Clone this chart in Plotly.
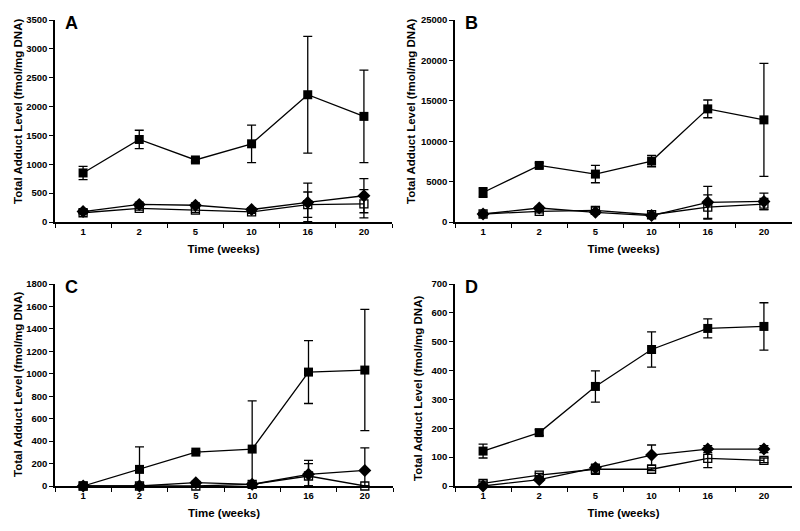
import plotly.graph_objects as go

weeks = ["1", "2", "5", "10", "16", "20"]

# Panel A
A_sq = [850, 1430, 1075, 1355, 2205, 1830]
A_sq_err = [115, 160, 35, 325, 1010, 800]
A_di = [180, 305, 290, 215, 340, 455]
A_di_err = [30, 40, 40, 30, 335, 295]
A_op = [160, 235, 205, 175, 300, 315]
A_op_err = [20, 30, 40, 25, 220, 245]

# Panel B
B_sq = [3650, 7000, 5930, 7540, 14000, 12640]
B_sq_err = [600, 300, 1070, 700, 1100, 7000]
B_di = [990, 1730, 1200, 790, 2430, 2550]
B_di_err = [150, 200, 250, 150, 1970, 1030]
B_op = [990, 1320, 1440, 900, 1850, 2220]
B_op_err = [150, 200, 400, 150, 1500, 700]

# Panel C
C_sq = [0, 148, 302, 329, 1015, 1033]
C_sq_err = [0, 200, 10, 430, 280, 540]
C_di = [0, 0, 30, 15, 104, 139]
C_di_err = [0, 0, 10, 10, 125, 200]
C_op = [0, 0, 0, 15, 89, 0]
C_op_err = [0, 0, 0, 10, 110, 0]

# Panel D
D_sq = [121, 185, 345, 473, 546, 553]
D_sq_err = [24, 10, 54, 61, 33, 82]
D_di = [0, 22, 63, 107, 128, 128]
D_di_err = [3, 5, 10, 35, 12, 12]
D_op = [9, 38, 58, 58, 96, 89]
D_op_err = [8, 6, 18, 5, 32, 8]

panels = [
    ("A", A_sq, A_sq_err, A_di, A_di_err, A_op, A_op_err, 3500, 500),
    ("B", B_sq, B_sq_err, B_di, B_di_err, B_op, B_op_err, 25000, 5000),
    ("C", C_sq, C_sq_err, C_di, C_di_err, C_op, C_op_err, 1800, 200),
    ("D", D_sq, D_sq_err, D_di, D_di_err, D_op, D_op_err, 700, 100),
]
y_title = "Total Adduct Level (fmol/mg DNA)"

OFF = 8  # page body margin
W, H = 800 - OFF, 531 - OFF
FONT = "Liberation Sans, Arial, sans-serif"
# pixel boxes in the screenshot: (left, right, top, bottom)
boxes = [(55, 392, 20, 222), (455, 792, 20, 222), (55, 393, 284, 486), (455, 792, 284, 486)]
# y-title centre positions in the screenshot
ytitle_pos = [(18, 112), (411, 112), (18, 385), (418, 388)]

fig = go.Figure()


def err(vals, e):
    return dict(type="data", array=e, arrayminus=[min(a, b) for a, b in zip(e, vals)],
                color="black", thickness=1.3, width=4.5, visible=True)


for i, (letter, sq, sqe, di, die, op, ope, ymax, dt) in enumerate(panels):
    n = i + 1
    xa = "x" if n == 1 else f"x{n}"
    ya = "y" if n == 1 else f"y{n}"
    common = dict(x=weeks, xaxis=xa, yaxis=ya, mode="lines+markers", showlegend=False,
                  cliponaxis=False, line=dict(color="black", width=1.3))
    fig.add_trace(go.Scatter(y=op, error_y=err(op, ope),
                             marker=dict(symbol="square-open", size=8, color="black",
                                         line=dict(color="black", width=1.3)), **common))
    fig.add_trace(go.Scatter(y=di, error_y=err(di, die),
                             marker=dict(symbol="diamond", size=10, color="black"), **common))
    fig.add_trace(go.Scatter(y=sq, error_y=err(sq, sqe),
                             marker=dict(symbol="square", size=9, color="black"), **common))

    l, r, t, b = [v - OFF for v in boxes[i]]
    xkey = "xaxis" if n == 1 else f"xaxis{n}"
    ykey = "yaxis" if n == 1 else f"yaxis{n}"
    fig.update_layout(**{
        xkey: dict(domain=[l / W, r / W], anchor=ya, type="category", automargin=False,
                   categoryorder="array", categoryarray=weeks, range=[-0.5, 5.5],
                   tickson="boundaries", ticks="outside", ticklen=4, tickwidth=1.3,
                   tickcolor="black", showline=True, linecolor="black", linewidth=1.5,
                   showgrid=False, zeroline=False,
                   tickfont=dict(family=FONT, size=9.5, color="black", weight="bold"),
                   title=dict(text="Time (weeks)", standoff=9,
                              font=dict(family=FONT, size=11.5, color="black", weight="bold"))),
        ykey: dict(domain=[1 - b / H, 1 - t / H], anchor=xa, range=[0, ymax], dtick=dt,
                   automargin=False,
                   tickformat="d", ticks="outside", ticklen=4, tickwidth=1.3,
                   tickcolor="black", showline=True, linecolor="black", linewidth=1.5,
                   showgrid=False, zeroline=False,
                   tickfont=dict(family=FONT, size=9.5, color="black", weight="bold")),
    })
    fig.add_annotation(text=letter, xref="paper", yref="paper", x=(l + 8) / W,
                       y=1 - (t - 9) / H, xanchor="left", yanchor="top", showarrow=False,
                       font=dict(family=FONT, size=18, color="black", weight="bold"))
    tx, ty = ytitle_pos[i]
    fig.add_annotation(text=y_title, xref="paper", yref="paper", x=(tx - OFF) / W,
                       y=1 - (ty - OFF) / H, xanchor="center", yanchor="middle",
                       textangle=-90, showarrow=False,
                       font=dict(family=FONT, size=11.5, color="black", weight="bold"))

fig.update_layout(width=W, height=H, margin=dict(l=0, r=0, t=0, b=0, autoexpand=False),
                  paper_bgcolor="white", plot_bgcolor="white")

fig.write_html("out.html")
